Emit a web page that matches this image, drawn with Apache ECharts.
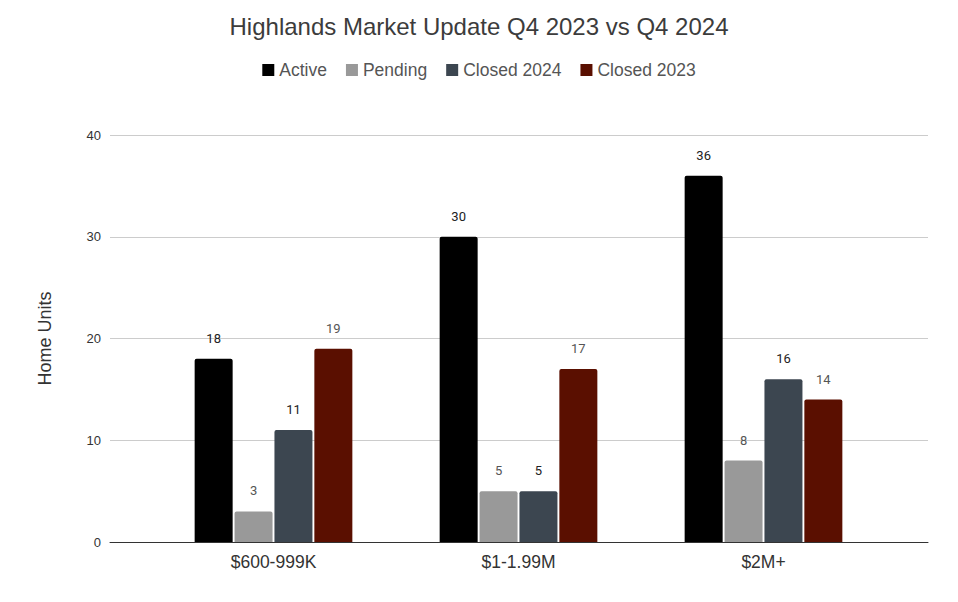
<!DOCTYPE html>
<html>
<head>
<meta charset="utf-8">
<script src="https://cdn.jsdelivr.net/npm/echarts@6/dist/echarts.min.js"></script>
<style>
  html, body { margin: 0; padding: 0; background: #fff; }
  #chart { width: 958px; height: 602px; }
</style>
</head>
<body>
<div id="chart"></div>
<script>
(function() {
  'use strict';

  // ========== Data ==========
  var categories = ['$600-999K', '$1-1.99M', '$2M+'];
  var active = [18, 30, 36];
  var pending = [3, 5, 8];
  var closed2024 = [11, 5, 16];
  var closed2023 = [19, 17, 14];

  var seriesNames = ['Active', 'Pending', 'Closed 2024', 'Closed 2023'];
  var seriesColors = ['#000000', '#999999', '#3c4650', '#5a0f00'];
  var seriesValues = [active, pending, closed2024, closed2023];
  var yTicks = { min: 0, max: 40, interval: 10 };

  var font = '"Liberation Sans", Arial, sans-serif';
  var labelFont = 'Roboto, "Liberation Sans", sans-serif';

  var chart = echarts.init(document.getElementById('chart'), null, { renderer: 'svg' });
  chart.setOption({
    animation: false,
    textStyle: { fontFamily: font },
    title: {
      text: 'Highlands Market Update Q4 2023 vs Q4 2024',
      left: 'center',
      top: 9,
      textStyle: { fontFamily: font, fontSize: 24, fontWeight: 'normal', color: '#3c3c3c' }
    },
    legend: {
      data: seriesNames,
      top: 56,
      left: 'center',
      icon: 'rect',
      itemWidth: 12,
      itemHeight: 12,
      itemGap: 19,
      textStyle: { fontFamily: font, fontSize: 17.5, color: '#555' }
    },
    // grid 0: full plot frame (gridlines, y labels, baseline)
    // grid 1: inset band area where the category groups sit
    grid: [
      { left: 110, right: 30, top: 135, bottom: 60 },
      { left: 151, right: 72, top: 135, bottom: 60 }
    ],
    xAxis: [{
      gridIndex: 0,
      type: 'value',
      min: 0,
      max: 1,
      axisLine: { show: true, onZero: false, lineStyle: { color: '#333' } },
      axisTick: { show: false },
      axisLabel: { show: false },
      splitLine: { show: false }
    }, {
      gridIndex: 1,
      type: 'category',
      data: categories,
      axisLine: { show: false },
      axisTick: { show: false },
      axisLabel: { color: '#333', fontSize: 17.5, margin: 11, fontFamily: font }
    }],
    yAxis: [{
      gridIndex: 0,
      type: 'value',
      min: yTicks.min,
      max: yTicks.max,
      interval: yTicks.interval,
      name: 'Home Units',
      nameLocation: 'middle',
      nameGap: 56,
      nameTextStyle: { color: '#333', fontSize: 18, fontFamily: font },
      axisLine: { show: false },
      axisTick: { show: false },
      axisLabel: { color: '#333', fontSize: 13, margin: 9, fontFamily: font },
      splitLine: { lineStyle: { color: '#cccccc' } }
    }, {
      gridIndex: 1,
      type: 'value',
      min: yTicks.min,
      max: yTicks.max,
      interval: yTicks.interval,
      show: false,
      splitLine: { show: false }
    }],
    series: seriesNames.map(function(name, i) {
      return {
        name: name,
        type: 'bar',
        xAxisIndex: 1,
        yAxisIndex: 1,
        data: seriesValues[i],
        barWidth: 38,
        barGap: '5%',
        itemStyle: { color: seriesColors[i], borderRadius: [2, 2, 0, 0] },
        label: {
          show: true,
          position: 'top',
          distance: 14,
          color: i % 2 === 0 ? '#222' : '#555',
          fontSize: 13,
          fontFamily: labelFont
        }
      };
    })
  });
})();
</script>
</body>
</html>
